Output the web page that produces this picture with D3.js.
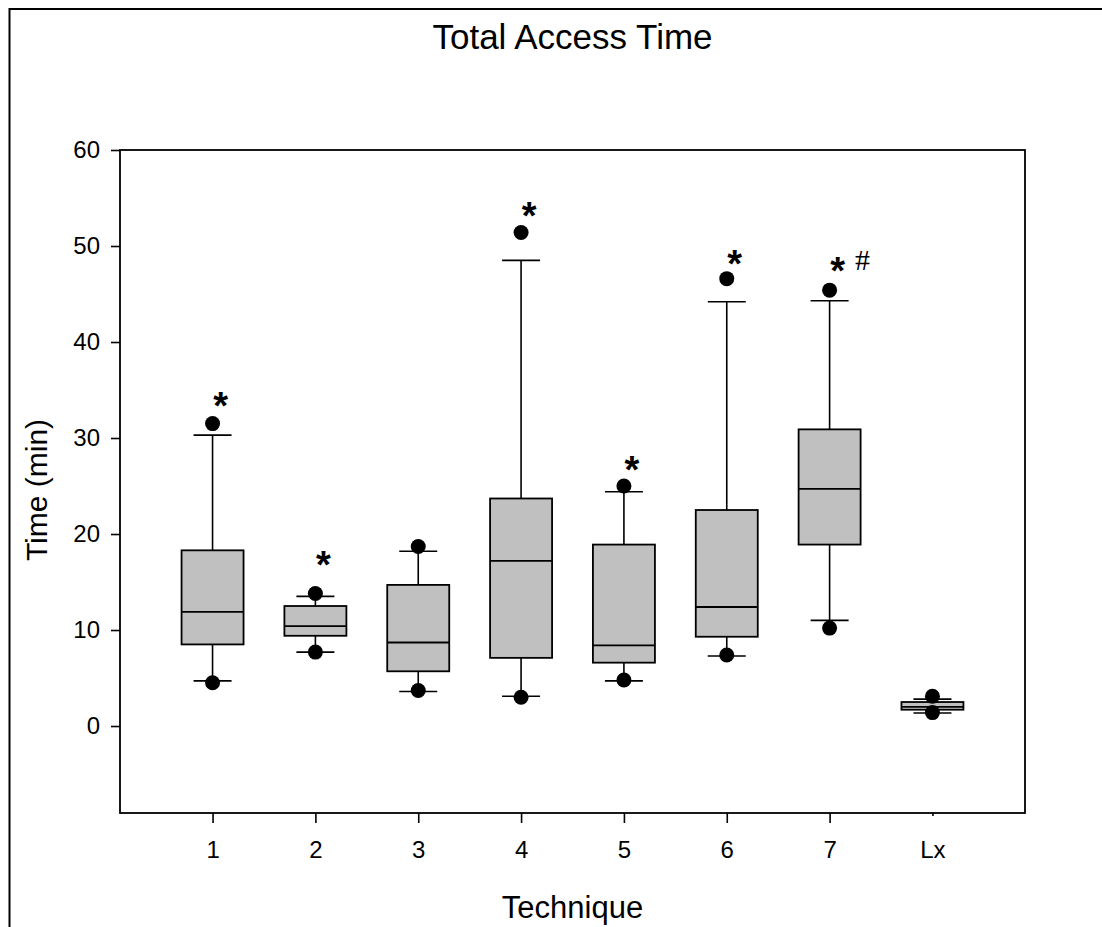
<!DOCTYPE html>
<html>
<head>
<meta charset="utf-8">
<script src="https://cdn.jsdelivr.net/npm/d3@7"></script>
<style>
  body { margin: 0; background: #fff; }
  text { font-family: "Liberation Sans", Arial, sans-serif; fill: #000; }
</style>
</head>
<body>
<svg id="chart"></svg>
<script>
//chart data
const categories  = ['1', '2', '3', '4', '5', '6', '7', 'Lx'];
const q1          = [8.5, 9.4, 5.7, 7.1, 6.6, 9.3, 18.9, 1.7];
const median      = [11.9, 10.4, 8.7, 17.2, 8.4, 12.4, 24.7, 2.0];
const q3          = [18.3, 12.5, 14.7, 23.7, 18.9, 22.5, 30.9, 2.5];
const whiskerLow  = [4.7, 7.7, 3.6, 3.1, 4.7, 7.3, 11.0, 1.35];
const whiskerHigh = [30.3, 13.5, 18.2, 48.5, 24.4, 44.2, 44.3, 2.8];
const pointLow    = [4.5, 7.7, 3.7, 3.0, 4.8, 7.4, 10.2, 1.4];
const pointHigh   = [31.5, 13.8, 18.7, 51.4, 25.0, 46.6, 45.4, 3.1];

//significance marks
const starCats   = ['1', '2', '4', '5', '6', '7'];
const starValues = [34.2, 17.6, 54.0, 27.5, 49.0, 48.2];
const hashCats   = ['7'];
const hashValues = [48.7];

const yTicks = [0, 10, 20, 30, 40, 50, 60];

const width = 1102;
const height = 927;
const margin = { left: 120, right: 77, top: 150, bottom: 114 };

const svg = d3.select('svg#chart').attr('width', width).attr('height', height);

//outer frame (left and top only)
svg.append('path')
    .attr('d', `M9.5,927 L9.5,9 L1102,9`)
    .attr('fill', 'none')
    .attr('stroke', '#000')
    .attr('stroke-width', 2);

const x = d3.scalePoint()
    .domain(categories)
    .range([margin.left, width - margin.right])
    .padding(0.9);

const y = d3.scaleLinear()
    .domain([-9.06, 60])
    .range([height - margin.bottom, margin.top]);

const boxW = 62;
const capW = 38;

const boxes = categories.map((c, i) => ({
    cat: c, q1: q1[i], med: median[i], q3: q3[i],
    lo: whiskerLow[i], hi: whiskerHigh[i],
    pLo: pointLow[i], pHi: pointHigh[i]
}));

const g = svg.append('g');

// whiskers
g.selectAll('.whisker')
    .data(boxes)
    .enter().append('path')
    .attr('class', 'whisker')
    .attr('fill', 'none')
    .attr('stroke', '#000')
    .attr('stroke-width', 1.6)
    .attr('d', d => {
        const cx = x(d.cat);
        return `M${cx},${y(d.q3)} L${cx},${y(d.hi)} M${cx - capW / 2},${y(d.hi)} L${cx + capW / 2},${y(d.hi)}` +
               `M${cx},${y(d.q1)} L${cx},${y(d.lo)} M${cx - capW / 2},${y(d.lo)} L${cx + capW / 2},${y(d.lo)}`;
    });

// boxes
g.selectAll('.box')
    .data(boxes)
    .enter().append('rect')
    .attr('class', 'box')
    .attr('x', d => x(d.cat) - boxW / 2)
    .attr('y', d => y(d.q3))
    .attr('width', boxW)
    .attr('height', d => y(d.q1) - y(d.q3))
    .attr('fill', '#c0c0c0')
    .attr('stroke', '#000')
    .attr('stroke-width', 1.8);

// medians
g.selectAll('.median')
    .data(boxes)
    .enter().append('line')
    .attr('class', 'median')
    .attr('x1', d => x(d.cat) - boxW / 2)
    .attr('x2', d => x(d.cat) + boxW / 2)
    .attr('y1', d => y(d.med))
    .attr('y2', d => y(d.med))
    .attr('stroke', '#000')
    .attr('stroke-width', 1.8);

// outlier points
const pts = [];
boxes.forEach(d => { pts.push({ cat: d.cat, v: d.pLo }); pts.push({ cat: d.cat, v: d.pHi }); });
g.selectAll('.pt')
    .data(pts)
    .enter().append('circle')
    .attr('class', 'pt')
    .attr('cx', d => x(d.cat))
    .attr('cy', d => y(d.v))
    .attr('r', 7.5)
    .attr('fill', '#000');

// asterisks
g.selectAll('.star')
    .data(starCats.map((c, i) => ({ cat: c, v: starValues[i] })))
    .enter().append('text')
    .attr('class', 'star')
    .attr('x', d => x(d.cat) + 8)
    .attr('y', d => y(d.v) + 21)
    .attr('text-anchor', 'middle')
    .style('font-size', '38px')
    .style('font-weight', 'bold')
    .text('*');

g.selectAll('.hash')
    .data(hashCats.map((c, i) => ({ cat: c, v: hashValues[i] })))
    .enter().append('text')
    .attr('class', 'hash')
    .attr('x', d => x(d.cat) + 33)
    .attr('y', d => y(d.v) + 12)
    .attr('text-anchor', 'middle')
    .style('font-family', '"Liberation Serif", serif')
    .style('font-size', '30px')
    .text('#');

// plot frame
svg.append('rect')
    .attr('x', margin.left)
    .attr('y', margin.top)
    .attr('width', width - margin.left - margin.right)
    .attr('height', height - margin.top - margin.bottom)
    .attr('fill', 'none')
    .attr('stroke', '#000')
    .attr('stroke-width', 1.8);

// y axis
const yAxis = svg.append('g')
    .attr('transform', `translate(${margin.left},0)`)
    .call(d3.axisLeft(y).tickValues(yTicks).tickSize(9).tickPadding(11));
yAxis.select('.domain').remove();
yAxis.selectAll('.tick line').attr('stroke-width', 1.6);
yAxis.selectAll('.tick text')
    .style('font-family', '"Liberation Sans", Arial, sans-serif')
    .style('font-size', '24px');

// x axis
const xAxis = svg.append('g')
    .attr('transform', `translate(0,${height - margin.bottom})`)
    .call(d3.axisBottom(x).tickSize(10).tickPadding(18));
xAxis.select('.domain').remove();
xAxis.selectAll('.tick line').attr('stroke-width', 1.6)
    .attr('y2', d => d === 'Lx' ? 3 : 10);
xAxis.selectAll('.tick text')
    .style('font-family', '"Liberation Sans", Arial, sans-serif')
    .style('font-size', '24px');

// titles
svg.append('text')
    .attr('x', (margin.left + width - margin.right) / 2)
    .attr('y', 49)
    .attr('text-anchor', 'middle')
    .style('font-size', '35px')
    .text('Total Access Time');

svg.append('text')
    .attr('x', (margin.left + width - margin.right) / 2)
    .attr('y', 918)
    .attr('text-anchor', 'middle')
    .style('font-size', '31px')
    .text('Technique');

svg.append('text')
    .attr('transform', `translate(47,490) rotate(-90)`)
    .attr('text-anchor', 'middle')
    .style('font-size', '30px')
    .text('Time (min)');
</script>
</body>
</html>
